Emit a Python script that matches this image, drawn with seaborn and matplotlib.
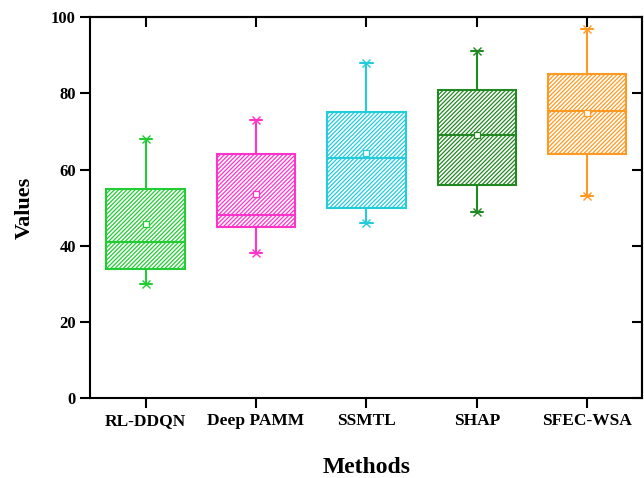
import matplotlib
matplotlib.use("Agg")
import matplotlib.pyplot as plt
import seaborn as sns
import pandas as pd
import numpy as np

methods = ["RL-DDQN", "Deep PAMM", "SSMTL", "SHAP", "SFEC-WSA"]
rl_ddqn = [30, 34, 41, 55, 68]
deep_pamm = [38, 45, 48, 64, 73]
ssmtl = [46, 50, 63, 75, 88]
shap = [49, 56, 69, 81, 91]
sfec_wsa = [53, 64, 75.5, 85, 97]
series = [rl_ddqn, deep_pamm, ssmtl, shap, sfec_wsa]
colors = ["#22cc33", "#ff33cc", "#22ccdd", "#228822", "#ff9922"]
yticks = [0, 20, 40, 60, 80, 100]

rows = []
for m, vals in zip(methods, series):
    for v in vals:
        rows.append({"Methods": m, "Values": v})
df = pd.DataFrame(rows)

sns.set_style("ticks")
plt.rcParams["font.family"] = ["Liberation Serif", "DejaVu Serif"]
plt.rcParams["font.weight"] = "bold"
plt.rcParams["text.color"] = "black"
plt.rcParams["axes.labelcolor"] = "black"
plt.rcParams["xtick.color"] = "black"
plt.rcParams["ytick.color"] = "black"
plt.rcParams["hatch.linewidth"] = 0.9

fig = plt.figure(figsize=(6.44, 4.78), dpi=100)
ax = fig.add_axes([0.1405, 0.167, 0.857, 0.797])

for m, c in zip(methods, colors):
    sub = df[df["Methods"] == m]
    n_before = len(ax.patches)
    sns.boxplot(data=sub, x="Methods", y="Values", order=methods,
                color=c, linecolor=c, fill=True, width=0.71,
                linewidth=1.5, whis=1.5, showmeans=True, ax=ax,
                capwidths=0.11,
                meanprops=dict(marker="s", markersize=5,
                               markerfacecolor="white", markeredgecolor=c,
                               markeredgewidth=0.9))
    for p in ax.patches[n_before:]:
        p.set_facecolor("white")
        p.set_edgecolor(c)
        p.set_hatch("////////")
        p.set_linewidth(1.5)

# star markers at whisker ends
for i, (vals, c) in enumerate(zip(series, colors)):
    ax.plot([i, i], [min(vals), max(vals)], linestyle="none", marker="x",
            markersize=6, color=c, markeredgewidth=1.0, zorder=5)

ax.set_xlim(-0.5, 4.5)
ax.set_ylim(0, 100)
ax.set_yticks(yticks)
ax.set_xlabel("Methods", fontsize=17, fontweight="bold", labelpad=20)
ax.set_ylabel("Values", fontsize=16, fontweight="bold", labelpad=12)
for s in ax.spines.values():
    s.set_linewidth(1.5)
    s.set_color("black")
    s.set_visible(True)
ax.tick_params(axis="both", direction="out", length=7, width=1.5, labelsize=12,
               colors="black")
ax.tick_params(axis="x", labelsize=12.5)
for lab in ax.get_xticklabels() + ax.get_yticklabels():
    lab.set_fontweight("bold")

top = ax.secondary_xaxis("top")
top.set_xticks(range(len(methods)))
top.tick_params(direction="in", length=7, width=1.5, labeltop=False)
top.spines["top"].set_linewidth(1.5)
right = ax.secondary_yaxis("right")
right.set_yticks(yticks)
right.tick_params(direction="in", length=7, width=1.5, labelright=False)
right.spines["right"].set_linewidth(1.5)

fig.savefig("out.png", dpi=100)
